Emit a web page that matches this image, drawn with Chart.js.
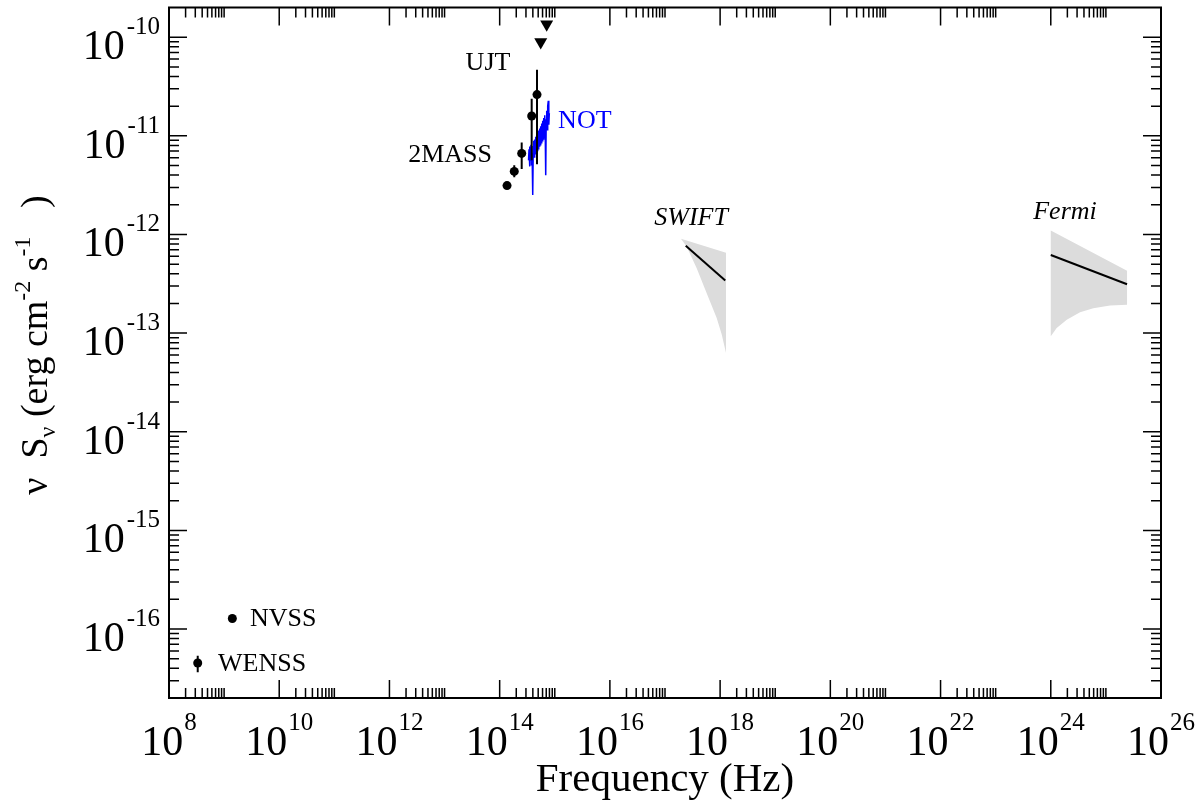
<!DOCTYPE html>
<html>
<head>
<meta charset="utf-8">
<script src="https://cdn.jsdelivr.net/npm/chart.js@4.4.0/dist/chart.umd.min.js"></script>
<style>
  html, body { margin: 0; padding: 0; background: #fff; }
  #wrap { width: 1200px; height: 807px; }
</style>
</head>
<body>
<div id="wrap"><canvas id="sed" width="1200" height="807"></canvas></div>
<script>
// axis ranges and tick exponents
const X_MIN = 1e8, X_MAX = 1e26;
const Y_MIN = 2e-17, Y_MAX = 2e-10;
const xTickExps = [8, 10, 12, 14, 16, 18, 20, 22, 24, 26];
const yTickExps = [-10, -11, -12, -13, -14, -15, -16];

// radio (WENSS, NVSS)
const radioNu   = [3.32e8, 1.41e9];
const radioFlux = [4.53e-17, 1.28e-16];
const radioLo   = [3.65e-17, 1.28e-16];
const radioHi   = [5.36e-17, 1.28e-16];

// 2MASS + UJT
const nirNu   = [1.36e14, 1.84e14, 2.51e14, 3.81e14, 4.76e14];
const nirFlux = [3.13e-12, 4.36e-12, 6.64e-12, 1.59e-11, 2.62e-11];
const nirLo   = [3.00e-12, 3.80e-12, 4.61e-12, 5.64e-12, 5.14e-12];
const nirHi   = [3.27e-12, 5.02e-12, 8.57e-12, 2.38e-11, 4.69e-11];

// upper limits
const limNu   = [5.56e14, 7.13e14];
const limFlux = [8.96e-11, 1.35e-10];

// NOT spectrum
const notNu = [3.34e14, 3.41e14, 3.48e14, 3.55e14, 3.63e14, 3.70e14, 3.78e14, 3.86e14, 3.98e14, 4.06e14,
  4.15e14, 4.23e14, 4.32e14, 4.42e14, 4.51e14, 4.60e14, 4.70e14, 4.80e14, 4.90e14, 5.01e14,
  5.11e14, 5.22e14, 5.33e14, 5.44e14, 5.55e14, 5.67e14, 5.79e14, 5.92e14, 6.04e14, 6.17e14,
  6.30e14, 6.43e14, 6.57e14, 6.71e14, 6.85e14, 6.99e14, 7.14e14, 7.29e14, 7.44e14, 7.63e14,
  7.79e14, 7.96e14];
const notFlux = [5.64e-12, 7.30e-12, 4.90e-12, 7.80e-12, 5.70e-12, 8.10e-12, 5.10e-12, 7.90e-12, 2.51e-12, 6.60e-12,
  8.90e-12, 6.10e-12, 9.20e-12, 6.60e-12, 9.80e-12, 6.90e-12, 1.03e-11, 7.10e-12, 1.08e-11, 7.40e-12,
  1.13e-11, 7.90e-12, 1.19e-11, 8.10e-12, 1.25e-11, 8.50e-12, 1.33e-11, 8.90e-12, 1.42e-11, 9.30e-12,
  1.52e-11, 9.70e-12, 1.62e-11, 1.07e-11, 3.98e-12, 1.45e-11, 1.80e-11, 1.15e-11, 2.00e-11, 2.27e-11,
  1.30e-11, 1.70e-11];

// SWIFT bowtie
const swiftNu        = [2.38e17, 1.24e18];
const swiftFlux      = [7.67e-13, 3.41e-13];
const swiftUpperNu   = [1.95e17, 1.28e18];
const swiftUpperFlux = [9.04e-13, 6.53e-13];
const swiftLowerNu   = [1.95e17, 2.48e17, 3.76e17, 4.95e17, 6.56e17, 8.67e17, 1.07e18, 1.28e18];
const swiftLowerFlux = [9.04e-13, 7.50e-13, 4.54e-13, 3.09e-13, 2.09e-13, 1.42e-13, 9.68e-14, 6.28e-14];

// Fermi bowtie
const fermiNu        = [1.0e24, 2.42e25];
const fermiFlux      = [6.19e-13, 3.13e-13];
const fermiUpperNu   = [1.0e24, 2.42e25];
const fermiUpperFlux = [1.10e-12, 4.30e-13];
const fermiLowerNu   = [1.0e24, 1.28e24, 1.95e24, 3.40e24, 5.91e24, 1.19e25, 2.42e25];
const fermiLowerFlux = [9.31e-14, 1.13e-13, 1.37e-13, 1.63e-13, 1.79e-13, 1.91e-13, 1.94e-13];

const pts = (xs, ys) => xs.map((x, i) => ({ x, y: ys[i] }));

// closed outline: upper edge left->right, lower edge right->left
function band(upNu, upF, loNu, loF) {
  return pts(upNu, upF).concat(pts(loNu, loF).reverse());
}

// vertical bars, broken by null points
function errBars(xs, lo, hi) {
  return xs.flatMap((x, i) => [{ x, y: lo[i] }, { x, y: hi[i] }, { x, y: null }]);
}

const SERIF = '"Liberation Serif", "DejaVu Serif", serif';

// text labels placed in data coordinates
const notes = [
  { text: 'UJT',   x: 6.14e13, y: 4.66e-11, align: 'center' },
  { text: '2MASS', x: 1.26e13, y: 5.38e-12, align: 'center' },
  { text: 'NOT',   x: 1.15e15, y: 1.21e-11, align: 'left', color: '#0000ff' },
  { text: 'SWIFT', x: 2.97e17, y: 1.25e-12, align: 'center', italic: true },
  { text: 'Fermi', x: 1.81e24, y: 1.45e-12, align: 'center', italic: true },
  { text: 'NVSS',  x: 2.95e9,  y: 1.07e-16, align: 'left' },
  { text: 'WENSS', x: 7.75e8,  y: 3.76e-17, align: 'left' },
];

const sedAxes = {
  id: 'sedAxes',
  afterDraw(chart) {
    const { ctx, chartArea: a, scales: { x, y } } = chart;
    ctx.save();
    ctx.strokeStyle = '#000';
    ctx.fillStyle = '#000';

    // ticks, pointing inward on all four sides
    ctx.lineWidth = 1.5;
    ctx.beginPath();
    const xt = (v, len) => {
      const px = x.getPixelForValue(v);
      ctx.moveTo(px, a.bottom); ctx.lineTo(px, a.bottom - len);
      ctx.moveTo(px, a.top); ctx.lineTo(px, a.top + len);
    };
    const yt = (v, len) => {
      const py = y.getPixelForValue(v);
      ctx.moveTo(a.left, py); ctx.lineTo(a.left + len, py);
      ctx.moveTo(a.right, py); ctx.lineTo(a.right - len, py);
    };
    xTickExps.forEach(e => {
      xt(Math.pow(10, e), 18);
      if (e < 26) for (let k = 2; k <= 10; k++) xt(k * Math.pow(10, e), 10);
    });
    for (let d = -17; d <= -10; d++) {
      if (yTickExps.includes(d)) yt(Math.pow(10, d), 18);
      for (let k = 2; k <= 9; k++) {
        const v = k * Math.pow(10, d);
        if (v > Y_MIN && v < Y_MAX) yt(v, 10);
      }
    }
    ctx.stroke();

    // frame
    ctx.lineWidth = 2;
    ctx.strokeRect(a.left, a.top, a.right - a.left, a.bottom - a.top);

    // tick labels 10^n
    const big = '42px ' + SERIF, small = '25px ' + SERIF;
    ctx.textBaseline = 'alphabetic';
    ctx.textAlign = 'left';
    xTickExps.forEach(e => {
      const px = x.getPixelForValue(Math.pow(10, e));
      ctx.font = big;
      const w1 = ctx.measureText('10').width;
      ctx.font = small;
      const w2 = ctx.measureText(String(e)).width;
      const x0 = px - (w1 + w2 + 1) / 2;
      ctx.font = big;
      ctx.fillText('10', x0, a.bottom + 57);
      ctx.font = small;
      ctx.fillText(String(e), x0 + w1 + 1, a.bottom + 32);
    });
    yTickExps.forEach(e => {
      const py = y.getPixelForValue(Math.pow(10, e));
      ctx.font = small;
      const w2 = ctx.measureText(String(e)).width;
      ctx.font = big;
      const w1 = ctx.measureText('10').width;
      const xr = a.left - 9;
      ctx.fillText('10', xr - w2 - w1 - 2, py + 22);
      ctx.font = small;
      ctx.fillText(String(e), xr - w2, py - 3);
    });

    // x title
    ctx.font = '41px ' + SERIF;
    ctx.textAlign = 'center';
    ctx.fillText('Frequency (Hz)', (a.left + a.right) / 2, a.bottom + 93);

    // y title, rotated
    ctx.save();
    ctx.translate(47, 345);
    ctx.rotate(-Math.PI / 2);
    ctx.textAlign = 'left';
    const parts = [
      ['\u03bd', 38, 0], ['  S', 38, 0], ['\u03bd', 24, 8], [' (erg cm', 38, 0],
      ['-2', 24, -17], [' s', 38, 0], ['-1', 24, -17], ['   )', 38, 0],
    ];
    let total = 0;
    parts.forEach(p => { ctx.font = p[1] + 'px ' + SERIF; total += ctx.measureText(p[0]).width; });
    let cx = -total / 2;
    parts.forEach(p => {
      ctx.font = p[1] + 'px ' + SERIF;
      ctx.fillText(p[0], cx, p[2]);
      cx += ctx.measureText(p[0]).width;
    });
    ctx.restore();

    // annotations
    notes.forEach(n => {
      ctx.font = (n.italic ? 'italic ' : '') + '26px ' + SERIF;
      ctx.fillStyle = n.color || '#000';
      ctx.textAlign = n.align;
      ctx.fillText(n.text, x.getPixelForValue(n.x), y.getPixelForValue(n.y));
    });
    ctx.restore();
  }
};

const GREY = '#dcdcdc';

new Chart(document.getElementById('sed'), {
  type: 'scatter',
  data: {
    datasets: [
      { data: pts(radioNu, radioFlux).concat(pts(nirNu, nirFlux)), pointRadius: 4.5,
        pointBackgroundColor: '#000', pointBorderWidth: 0, order: 0 },
      { data: pts(limNu, limFlux), pointStyle: 'triangle', rotation: 180, pointRadius: 7.5,
        pointBackgroundColor: '#000', pointBorderWidth: 0, order: 1 },
      { data: errBars(radioNu, radioLo, radioHi).concat(errBars(nirNu, nirLo, nirHi)), showLine: true,
        borderColor: '#000', borderWidth: 2, pointRadius: 0, order: 2 },
      { data: pts(notNu, notFlux), showLine: true, borderColor: '#0000ff', borderWidth: 1.5,
        pointRadius: 0, order: 3 },
      { data: pts(swiftNu, swiftFlux), showLine: true, borderColor: '#000', borderWidth: 2,
        pointRadius: 0, order: 4 },
      { data: pts(fermiNu, fermiFlux), showLine: true, borderColor: '#000', borderWidth: 2,
        pointRadius: 0, order: 5 },
      { data: band(swiftUpperNu, swiftUpperFlux, swiftLowerNu, swiftLowerFlux), showLine: true,
        fill: 'shape', backgroundColor: GREY, borderWidth: 0, pointRadius: 0, order: 6 },
      { data: band(fermiUpperNu, fermiUpperFlux, fermiLowerNu, fermiLowerFlux), showLine: true,
        fill: 'shape', backgroundColor: GREY, borderWidth: 0, pointRadius: 0, order: 7 },
    ],
  },
  options: {
    responsive: false,
    animation: false,
    layout: { padding: { left: 169, right: 39, top: 4.5, bottom: 109 } },
    scales: {
      x: { type: 'logarithmic', min: X_MIN, max: X_MAX, bounds: 'data', display: false },
      y: { type: 'logarithmic', min: Y_MIN, max: Y_MAX, bounds: 'data', display: false },
    },
    plugins: {
      legend: { display: false },
      tooltip: { enabled: false },
      filler: { drawTime: 'beforeDatasetsDraw' },
    },
  },
  plugins: [sedAxes],
});
</script>
</body>
</html>
